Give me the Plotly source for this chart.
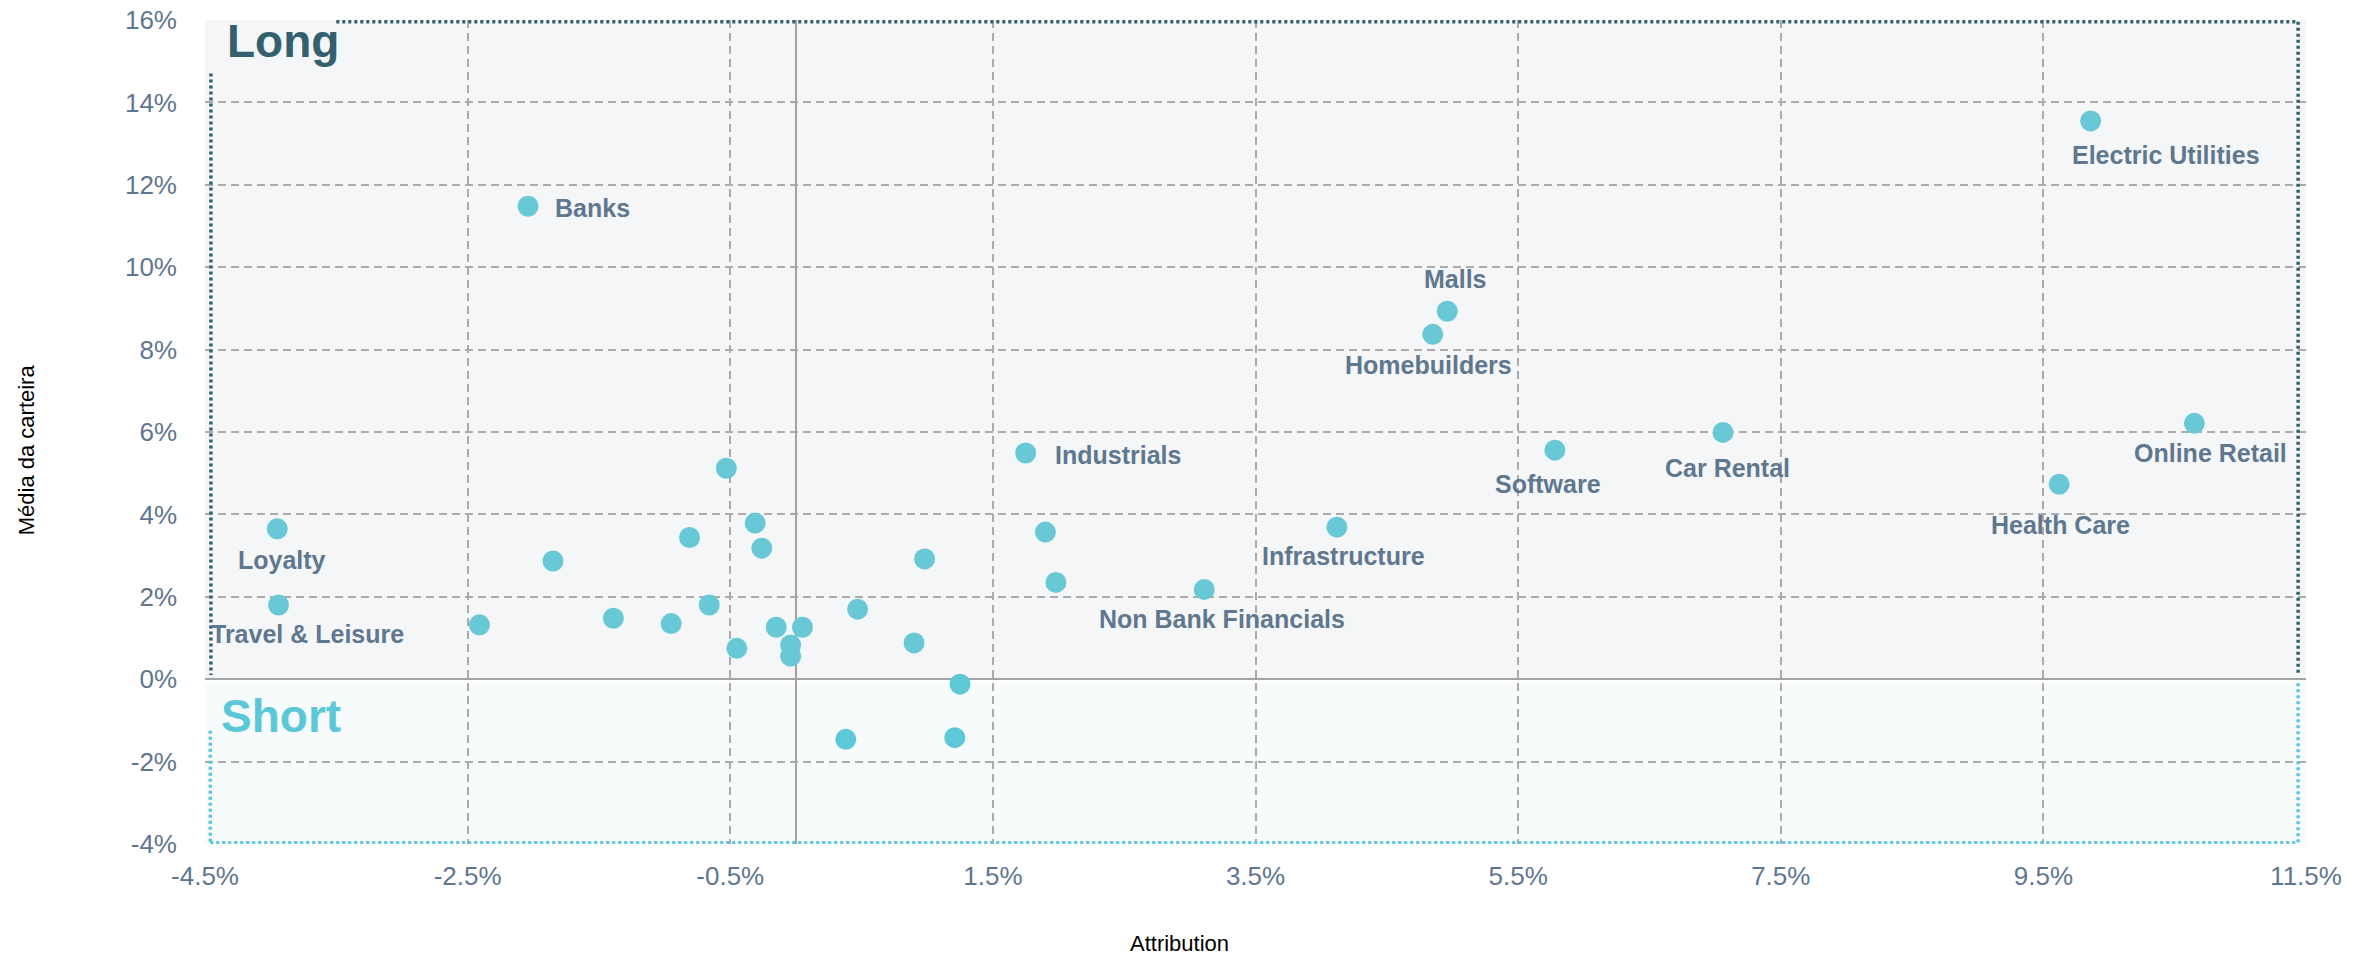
import plotly.graph_objects as go

# ---------------- data ----------------
labeled_names = ["Electric Utilities", "Banks", "Malls", "Homebuilders", "Online Retail",
                 "Car Rental", "Software", "Industrials", "Health Care", "Infrastructure",
                 "Loyalty", "Travel & Leisure", "Non Bank Financials"]
labeled_attribution = [9.86, -2.04, 4.96, 4.85, 10.65, 7.06, 5.78, 1.75, 9.62, 4.12, -3.95, -3.94, 3.11]
labeled_media = [13.55, 11.48, 8.93, 8.37, 6.21, 5.99, 5.56, 5.49, 4.73, 3.69, 3.65, 1.80, 2.18]

other_attribution = [-0.53, -0.31, -0.81, -0.26, 0.98, 1.90, 1.98, -1.39, -0.95, -0.66, -0.45,
                     -0.15, 0.05, -0.04, -0.04, 0.47, 0.90, 1.25, 0.38, 1.21, -2.41, -1.85]
other_media = [5.12, 3.79, 3.44, 3.18, 2.92, 3.57, 2.35, 1.48, 1.35, 1.80, 0.75,
               1.26, 1.26, 0.83, 0.56, 1.70, 0.88, -0.12, -1.46, -1.42, 1.32, 2.87]

x_ticks = [-4.5, -2.5, -0.5, 1.5, 3.5, 5.5, 7.5, 9.5, 11.5]
y_ticks = [-4, -2, 0, 2, 4, 6, 8, 10, 12, 14, 16]

# label placement offsets (pixels: right, down) and anchors -- styling only
label_style = {
    "Electric Utilities": (75, 34, "center"),
    "Banks": (25, 2, "left"),
    "Malls": (8, -32, "center"),
    "Homebuilders": (-4, 31, "center"),
    "Online Retail": (16, 30, "center"),
    "Car Rental": (5, 36, "center"),
    "Software": (-7, 34, "center"),
    "Industrials": (27, 2, "left"),
    "Health Care": (1, 41, "center"),
    "Infrastructure": (7, 29, "center"),
    "Loyalty": (5, 31, "center"),
    "Travel & Leisure": (29, 29, "center"),
    "Non Bank Financials": (18, 30, "center"),
}

FONT = "Arial, Liberation Sans, sans-serif"
LABEL_COLOR = "#5f778f"
TICK_COLOR = "#5f7690"
LONG_COLOR = "#335f6e"
SHORT_COLOR = "#5bc8d8"
MARKER_COLOR = "#68c8d6"
MARKER_COLOR_NEG = "#5cc8d8"

all_x = labeled_attribution + other_attribution
all_y = labeled_media + other_media
colors = [MARKER_COLOR if v >= 0 else MARKER_COLOR_NEG for v in all_y]

fig = go.Figure()
fig.add_trace(go.Scatter(
    x=all_x, y=all_y, mode="markers",
    marker=dict(size=21, color=colors, line=dict(width=0)),
    hoverinfo="x+y", showlegend=False,
))

# region backgrounds
fig.add_shape(type="rect", xref="x", yref="y", x0=-4.5, x1=11.5, y0=0, y1=16,
              fillcolor="#f4f6f8", line=dict(width=0), layer="below")
fig.add_shape(type="rect", xref="x", yref="y", x0=-4.5, x1=11.5, y0=-4, y1=-0.1,
              fillcolor="#f7fbfc", line=dict(width=0), layer="below")

# dotted borders
dot = "3px,3px"
long_line = dict(color=LONG_COLOR, width=3.5, dash=dot)
short_line = dict(color=SHORT_COLOR, width=3.5, dash=dot)
fig.add_shape(type="line", x0=-3.5, x1=11.44, y0=15.96, y1=15.96, line=long_line, layer="above")
fig.add_shape(type="line", x0=11.44, x1=11.44, y0=15.96, y1=0.1, line=long_line, layer="above")
fig.add_shape(type="line", x0=-4.455, x1=-4.455, y0=14.7, y1=0.1, line=long_line, layer="above")
fig.add_shape(type="line", x0=-4.46, x1=11.44, y0=-3.97, y1=-3.97, line=short_line, layer="above")
fig.add_shape(type="line", x0=11.44, x1=11.44, y0=-0.1, y1=-3.97, line=short_line, layer="above")
fig.add_shape(type="line", x0=-4.46, x1=-4.46, y0=-1.25, y1=-3.97, line=short_line, layer="above")

# data labels
for name, xv, yv in zip(labeled_names, labeled_attribution, labeled_media):
    dx, dy, anchor = label_style[name]
    fig.add_annotation(x=xv, y=yv, xref="x", yref="y", text=name, showarrow=False,
                       xanchor=anchor, yanchor="middle", xshift=dx, yshift=-dy,
                       font=dict(family=FONT, size=25, color=LABEL_COLOR, weight="bold"))

# region titles
fig.add_annotation(xref="paper", yref="paper", x=0.0095, y=0.974, text="Long",
                   showarrow=False, xanchor="left", yanchor="middle",
                   font=dict(family=FONT, size=46, color=LONG_COLOR, weight="bold"))
fig.add_annotation(xref="paper", yref="paper", x=0.0065, y=0.155, text="Short",
                   showarrow=False, xanchor="left", yanchor="middle",
                   font=dict(family=FONT, size=46, color=SHORT_COLOR, weight="bold"))

# axis titles
fig.add_annotation(xref="paper", yref="paper", x=0.464, y=-0.121, text="Attribution",
                   showarrow=False, xanchor="center", yanchor="middle",
                   font=dict(family=FONT, size=22, color="#000000"))
fig.add_annotation(xref="paper", yref="paper", x=-0.0852, y=0.479, text="Média da carteira",
                   showarrow=False, xanchor="center", yanchor="middle", textangle=-90,
                   font=dict(family=FONT, size=22, color="#000000"))

grid = dict(showgrid=True, gridcolor="#ababab", gridwidth=1.5, griddash="8px,5px",
            zeroline=True, zerolinecolor="#a3a3a3", zerolinewidth=2, automargin=False,
            ticklabeloverflow="allow",
            showline=False, ticks="", tickfont=dict(family=FONT, size=26, color=TICK_COLOR))

fig.update_xaxes(range=[-4.5, 11.5], tickvals=x_ticks,
                 ticktext=[f"{v:.1f}%" for v in x_ticks], ticklabelstandoff=14, **grid)
fig.update_yaxes(range=[-4, 16], tickvals=y_ticks,
                 ticktext=[f"{v}%" for v in y_ticks], ticklabelstandoff=27, **grid)

fig.update_layout(
    template="none",
    width=2377, height=960,
    margin=dict(l=205, r=71, t=20, b=116, pad=0),
    paper_bgcolor="#ffffff", plot_bgcolor="#ffffff",
    font=dict(family=FONT),
    showlegend=False,
)

# remove the default 8px page margin so the figure fills the window exactly
fig.write_html("out.html", config={"displayModeBar": False},
               post_script="document.body.style.margin='0';")
